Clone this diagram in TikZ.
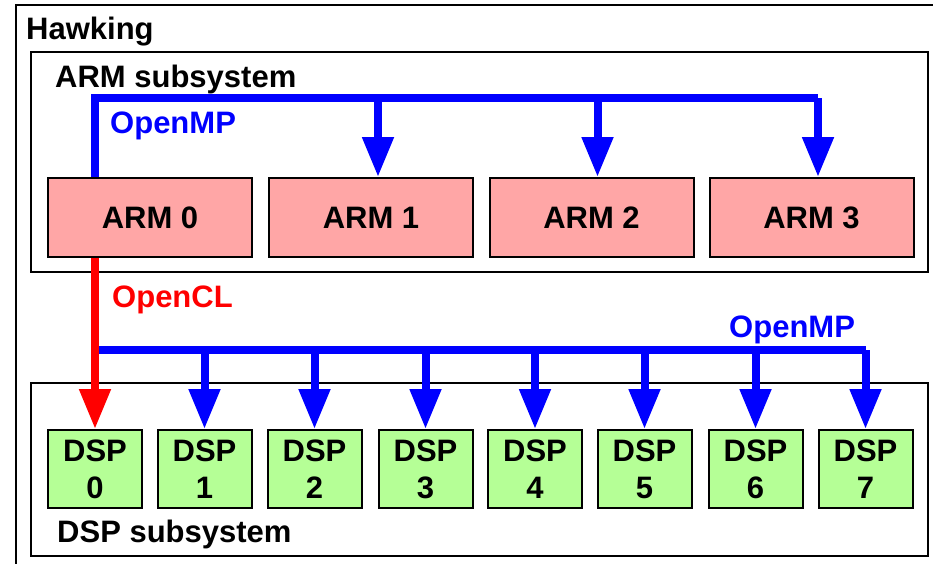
\documentclass[tikz,border=0pt]{standalone}
\usepackage{fontspec}
\setmainfont{Liberation Sans}
\usetikzlibrary{arrows.meta,calc}
\definecolor{armpink}{RGB}{255,166,166}
\definecolor{dspgreen}{RGB}{181,255,150}
\begin{document}
\begin{tikzpicture}[x=1pt,y=-1pt,
  lbl/.style={font=\fontsize{31}{37}\selectfont\bfseries, anchor=base west, inner sep=0pt},
  container/.style={draw=black, line width=1.8pt},
  armbox/.style={draw=black, line width=2pt, fill=armpink, minimum width=204pt, minimum height=79pt, inner sep=0pt,
    font=\fontsize{31}{37}\selectfont\bfseries, text height=22.2pt, text depth=0pt},
  dspbox/.style={draw=black, line width=2pt, fill=dspgreen, minimum width=94pt, minimum height=78pt, inner sep=0pt,
    font=\fontsize{31}{37}\selectfont\bfseries, align=center},
  bus/.style={draw=blue, line width=8pt},
  busarrow/.style={draw=blue, line width=8pt, -{Triangle[width=30pt,length=40pt]}},
  redarrow/.style={draw=red, line width=8pt, -{Triangle[width=30pt,length=40pt]}}]
\useasboundingbox (0,0) rectangle (933,563);
\fill[white] (0,0) rectangle (933,563);
% containers
\draw[container] (16,5) rectangle (950,580);
\draw[container] (31,52) rectangle (928,272);
\draw[container] (31,383) rectangle (928,556);
% labels
\node[lbl] (hawk) at (26,39) {Hawking};
\node[lbl] (armsub) at (55,87) {ARM subsystem};
\node[lbl, text=blue] (omp1) at (110,133) {OpenMP};
\node[lbl, text=red] (ocl) at (112,307) {OpenCL};
\node[lbl, text=blue] (omp2) at (729,337) {OpenMP};
\node[lbl] (dspsub) at (57,542) {DSP subsystem};
% ARM cores
\node[armbox] (arm0) at (150,217.5) {ARM 0};
\node[armbox] (arm1) at (371,217.5) {ARM 1};
\node[armbox] (arm2) at (591.5,217.5) {ARM 2};
\node[armbox] (arm3) at (811.5,217.5) {ARM 3};
% DSP cores
\node[dspbox] (dsp0) at (95,469) {DSP\\0};
\node[dspbox] (dsp1) at (204.5,469) {DSP\\1};
\node[dspbox] (dsp2) at (314.5,469) {DSP\\2};
\node[dspbox] (dsp3) at (425.5,469) {DSP\\3};
\node[dspbox] (dsp4) at (535,469) {DSP\\4};
\node[dspbox] (dsp5) at (644.5,469) {DSP\\5};
\node[dspbox] (dsp6) at (755.5,469) {DSP\\6};
\node[dspbox] (dsp7) at (865.5,469) {DSP\\7};
% top OpenMP bus
\coordinate (a0) at (arm0.north -| dsp0.north);
\coordinate (a1) at ($(arm1.north)+(7,0)$);
\coordinate (a2) at ($(arm2.north)+(6,0)$);
\coordinate (a3) at ($(arm3.north)+(6.5,0)$);
\coordinate (tbL) at ($(a0)+(0,-79)$);
\draw[bus] (a0) -- (tbL) -- (tbL -| a3);
\draw[busarrow] (a1 |- tbL) -- (a1);
\draw[busarrow] (a2 |- tbL) -- (a2);
\draw[busarrow] (a3 |- tbL) -- (a3);
% bottom OpenMP bus
\coordinate (bbL) at (dsp0.north |- 0,350);
\draw[bus] (bbL) -- (bbL -| dsp7.north);
\foreach \i in {1,...,7} {
  \draw[busarrow] (bbL -| dsp\i.north) -- (dsp\i.north);
}
% OpenCL
\draw[redarrow] (arm0.south -| dsp0.north) -- (dsp0.north);
\end{tikzpicture}
\end{document}
